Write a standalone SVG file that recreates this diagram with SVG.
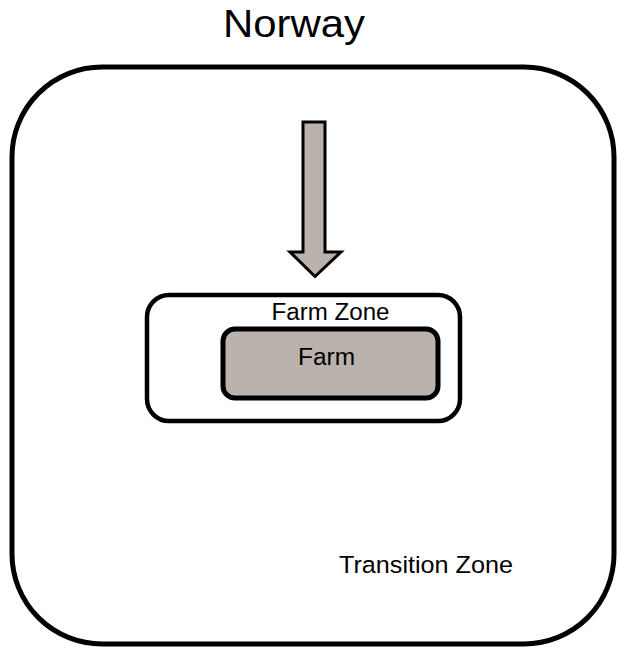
<svg xmlns="http://www.w3.org/2000/svg" width="618" height="650" viewBox="0 0 618 650">
<style>
text{font-family:"Liberation Sans",Arial,sans-serif;fill:#000;}
.box{fill:#fff;stroke:#000;}
.gray{fill:#bab2ac;stroke:#000;}
</style>
<rect width="618" height="650" fill="#fff"/>
<g id="norway">
<rect class="box" x="12" y="67" width="602" height="577" rx="90" ry="90" stroke-width="5"/>
<text x="294" y="37" font-size="38" text-anchor="middle" textLength="142" lengthAdjust="spacingAndGlyphs">Norway</text>
</g>
<g id="transition-zone">
<text x="426" y="573" font-size="24.5" text-anchor="middle" textLength="174" lengthAdjust="spacingAndGlyphs">Transition Zone</text>
</g>
<g id="farm-zone">
<rect class="box" x="147" y="295" width="313" height="126" rx="22" ry="22" stroke-width="4.5"/>
<text x="330.5" y="320" font-size="23.5" text-anchor="middle" textLength="118" lengthAdjust="spacingAndGlyphs">Farm Zone</text>
</g>
<g id="farm">
<rect class="gray" x="223" y="329" width="215" height="69" rx="12" ry="12" stroke-width="5"/>
<text x="326.5" y="365" font-size="23.5" text-anchor="middle" textLength="57" lengthAdjust="spacingAndGlyphs">Farm</text>
</g>
<g id="connectors">
<path class="gray" d="M303,122 L325,122 L325,252 L341,252 L315,276.5 L290,252 L303,252 Z" stroke-width="3" stroke-linejoin="miter"/>
</g>
</svg>
